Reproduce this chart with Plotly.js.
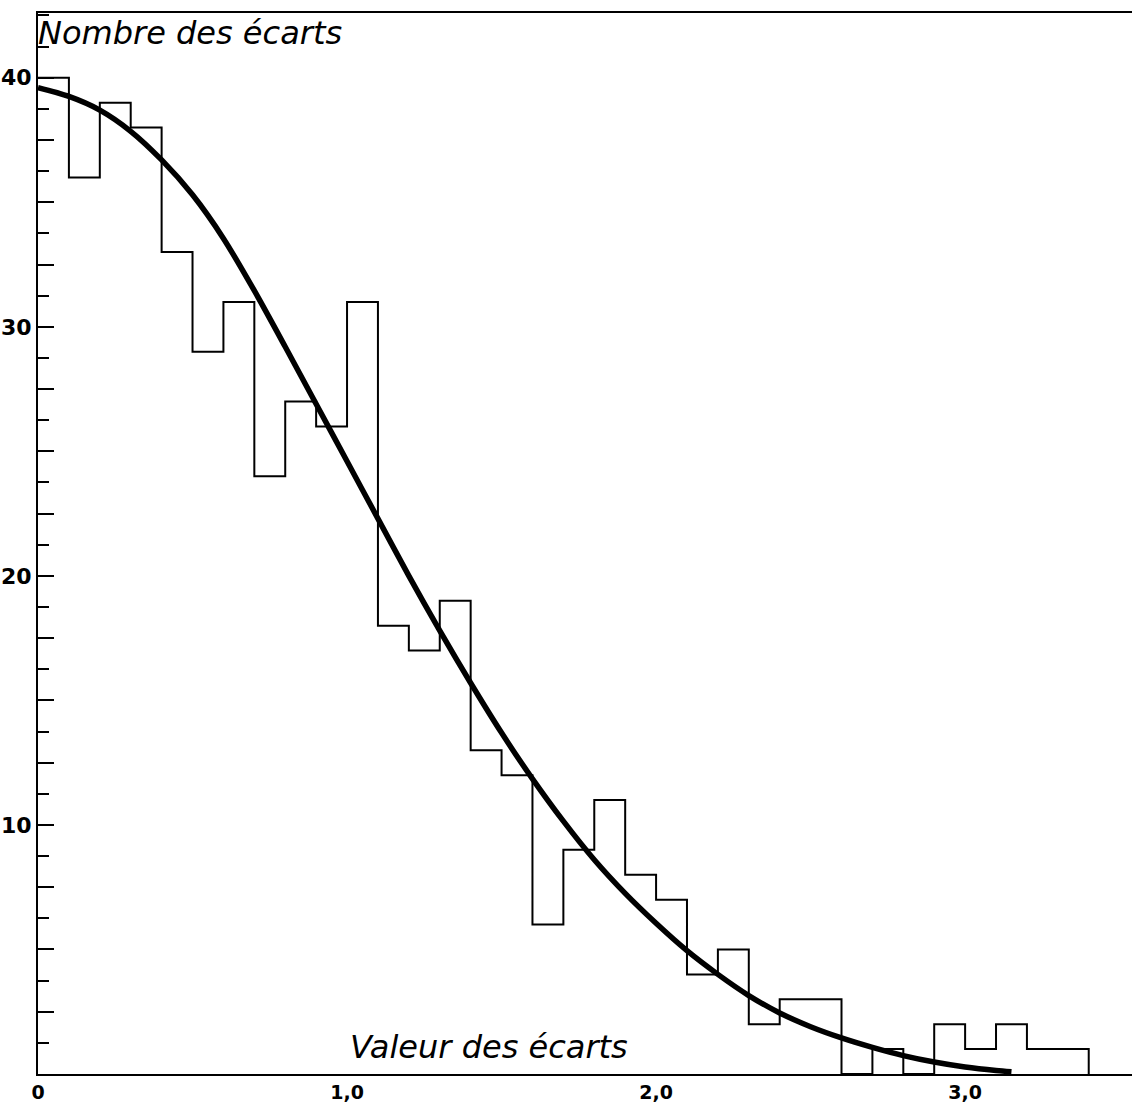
<!DOCTYPE html>
<html>
<head>
<meta charset="utf-8">
<script src="https://cdn.plot.ly/plotly-3.0.1.min.js"></script>
<style>
  html, body { margin: 0; padding: 0; background: #ffffff; }
  #chart { width: 1134px; height: 1105px; }
</style>
</head>
<body>
<div id="chart"></div>
<script>
// Histogram: number of deviations per class of width 0.1
const binWidth = 0.1;
const counts = [40, 36, 39, 38, 33, 29, 31, 24, 27, 26,
                31, 18, 17, 19, 13, 12, 6, 9, 11, 8,
                7, 4, 5, 2, 3, 3, 0, 1, 0, 2,
                1, 2, 1, 1];

// Smooth fitted curve
const curveX = [0, 0.1, 0.2, 0.3, 0.4, 0.5, 0.6, 0.7, 0.8, 0.9,
                1.0, 1.1, 1.2, 1.3, 1.4, 1.5, 1.6, 1.7, 1.8, 1.9,
                2.0, 2.1, 2.2, 2.3, 2.4, 2.5, 2.6, 2.7, 2.8, 2.9,
                3.0, 3.1, 3.15];
const curveY = [39.6, 39.25, 38.7, 37.85, 36.7, 35.3, 33.55, 31.45, 29.2, 26.9,
                24.6, 22.3, 20.0, 17.8, 15.7, 13.7, 11.85, 10.15, 8.6, 7.25,
                6.05, 4.95, 4.0, 3.15, 2.45, 1.9, 1.45, 1.07, 0.74, 0.48,
                0.28, 0.14, 0.09];

// Axis labels
const xTickVals = [0, 1, 2, 3];
const xTickText = ['0', '1,0', '2,0', '3,0'];
const yTickVals = [2.5, 5, 7.5, 10, 12.5, 15, 17.5, 20, 22.5, 25, 27.5, 30, 32.5, 35, 37.5, 40];
const yTickText = ['', '', '', '10', '', '', '', '20', '', '', '', '30', '', '', '', '40'];

const yTitle = 'Nombre des écarts';
const xTitle = 'Valeur des écarts';

// Build step outline from bin edges
const stepX = [];
const stepY = [];
counts.forEach((c, i) => { stepX.push(+(i * binWidth).toFixed(2)); stepY.push(c); });
stepX.push(+(counts.length * binWidth).toFixed(2));
stepY.push(0);

const traces = [
  {
    type: 'scatter', mode: 'lines', name: 'Histogramme',
    x: stepX, y: stepY,
    line: { shape: 'hv', color: '#000000', width: 2 },
    showlegend: false
  },
  {
    type: 'scatter', mode: 'lines', name: 'Courbe',
    x: curveX, y: curveY,
    line: { shape: 'spline', smoothing: 0.8, color: '#000000', width: 5.5 },
    showlegend: false
  }
];

const layout = {
  width: 1134, height: 1105,
  margin: { l: 38, r: 2, t: 13, b: 31 },
  paper_bgcolor: '#ffffff', plot_bgcolor: '#ffffff',
  font: { family: 'DejaVu Sans, sans-serif', color: '#000000' },
  showlegend: false,
  title: {
    text: '<i>' + yTitle + '</i>',
    xref: 'paper', yref: 'paper', x: 0.0, y: 0.992,
    xanchor: 'left', yanchor: 'top',
    font: { family: 'DejaVu Sans, sans-serif', size: 32, color: '#000000' }
  },
  xaxis: {
    range: [0, 3.54], showgrid: false, zeroline: false,
    showline: true, linecolor: '#000000', linewidth: 2, mirror: true,
    tickmode: 'array', tickvals: xTickVals, ticktext: xTickText,
    ticks: '', ticklabelstandoff: 0,
    tickfont: { family: 'DejaVu Sans, sans-serif', size: 19, color: '#000000', weight: 'bold' }
  },
  yaxis: {
    range: [0, 42.6], showgrid: false, zeroline: false,
    showline: true, linecolor: '#000000', linewidth: 2,
    tickmode: 'array', tickvals: yTickVals, ticktext: yTickText,
    ticks: 'inside', ticklen: 16, tickwidth: 2, tickcolor: '#000000',
    ticklabelstandoff: 0,
    tickfont: { family: 'DejaVu Sans, sans-serif', size: 22, color: '#000000', weight: 'bold' },
    minor: { tickmode: 'linear', tick0: 0, dtick: 1.25, ticks: 'inside', ticklen: 11, tickwidth: 2, tickcolor: '#000000' }
  },
  annotations: [
    {
      text: '<i>' + xTitle + '</i>', xref: 'x', yref: 'y',
      x: 1.46, y: 1.1, xanchor: 'center', yanchor: 'middle', showarrow: false,
      font: { family: 'DejaVu Sans, sans-serif', size: 32, color: '#000000' }
    }
  ]
};

Plotly.newPlot('chart', traces, layout, { displayModeBar: false, staticPlot: true });
</script>
</body>
</html>
